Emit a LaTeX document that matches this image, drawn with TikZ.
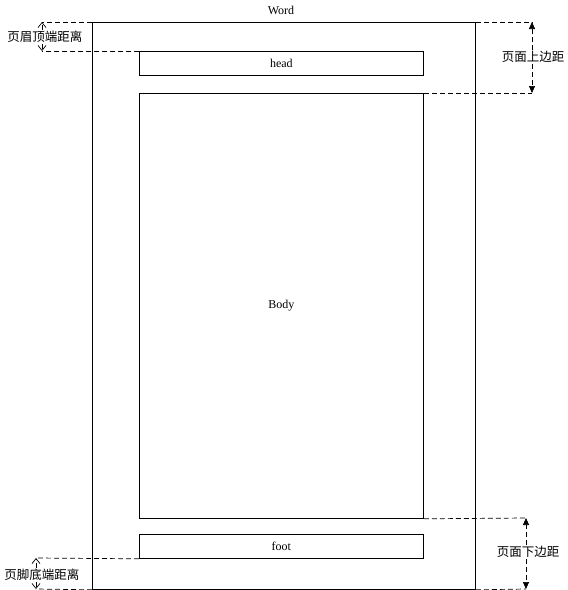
\documentclass[tikz,border=0pt]{standalone}
\usepackage{fontspec}
\setmainfont{Liberation Serif}
\newfontfamily\cjk{Noto Sans CJK SC}
\usetikzlibrary{arrows.meta}
\begin{document}
\begin{tikzpicture}[x=1pt,y=-1pt,
  box/.style={draw,line width=0.8pt,inner sep=0pt,anchor=north west},
  lbl/.style={font=\fontsize{12}{14}\selectfont,inner sep=1pt},
  clbl/.style={font=\cjk\fontsize{12.5}{14}\selectfont,inner sep=1pt,fill=white},
  ext/.style={dashed,line width=0.7pt,dash pattern=on 5pt off 3pt},
  dimL/.style={ext,-{Straight Barb[length=5pt,width=8pt]}},
  dimR/.style={ext,-{Triangle[length=7pt,width=6pt]}}]
\useasboundingbox (0,0) rectangle (568,590);
% boxes
\node[box,minimum width=383pt,minimum height=567pt] (page) at (92,22) {};
\node[box,minimum width=284pt,minimum height=24pt] (head) at (139,51) {};
\node[box,minimum width=284pt,minimum height=425pt] (body) at (139,93) {};
\node[box,minimum width=284pt,minimum height=24pt] (foot) at (139,534) {};
\node[lbl] (word) at (281,10) {Word};
\node[lbl] (headt) at (head.center) {head};
\node[lbl] (bodyt) at (body.center) {Body};
\node[lbl] (foott) at (foot.center) {foot};
% top left
\coordinate (tl1) at (42,22);
\coordinate (tl2) at (42,51);
\draw[ext] (page.north west) -- (tl1);
\draw[ext] (head.south west |- head.north west) -- (tl2);
\node[clbl] (hdist) at (45,37) {页眉顶端距离};
\draw[dimL] (hdist.north -| tl1) -- (tl1);
\draw[dimL] (hdist.south -| tl2) -- (tl2);
% top right
\coordinate (tr1) at (532,22);
\coordinate (tr2) at (532,93);
\draw[ext] (page.north east) -- (tr1);
\draw[ext] (body.north east) -- (tr2);
\node[clbl] (tmar) at (533,57) {页面上边距};
\draw[dimR] (tmar.north -| tr1) -- (tr1);
\draw[dimR] (tmar.south -| tr2) -- (tr2);
% bottom right
\coordinate (br1) at (526,518);
\coordinate (br2) at (526,589);
\draw[ext] (body.south east) -- (br1);
\draw[ext] (page.south east) -- (br2);
\node[clbl] (bmar) at (528,552) {页面下边距};
\draw[dimR] (bmar.north -| br1) -- (br1);
\draw[dimR] (bmar.south -| br2) -- (br2);
% bottom left
\coordinate (bl1) at (36,558);
\coordinate (bl2) at (36,589);
\draw[ext] (foot.south west) -- (bl1);
\draw[ext] (page.south west) -- (bl2);
\node[clbl] (fdist) at (42,575) {页脚底端距离};
\draw[dimL] (fdist.north -| bl1) -- (bl1);
\draw[dimL] (fdist.south -| bl2) -- (bl2);
\end{tikzpicture}
\end{document}
